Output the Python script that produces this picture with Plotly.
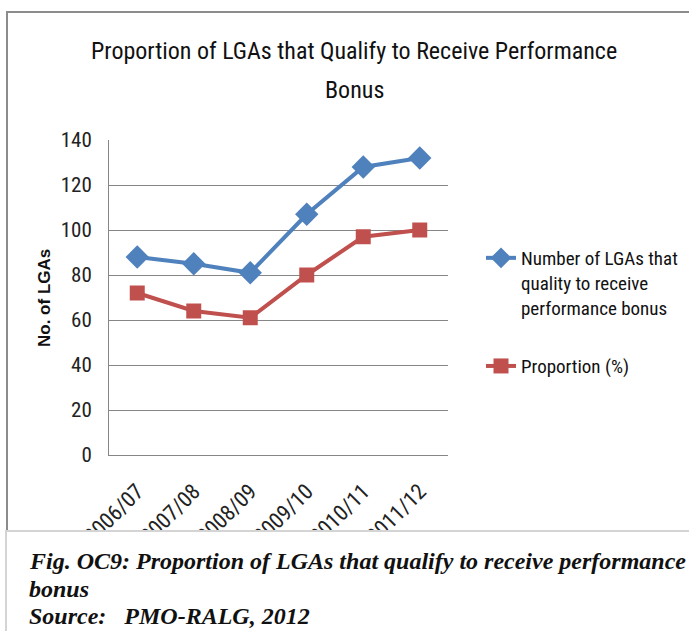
import plotly.graph_objects as go

# data
years = ["2006/07", "2007/08", "2008/09", "2009/10", "2010/11", "2011/12"]
lga_count = [88, 85, 81, 107, 128, 132]
proportion = [72, 64, 61, 80, 97, 100]
y_ticks = [0, 20, 40, 60, 80, 100, 120, 140]

W, H = 689, 631
L, R, T, B = 109, 448, 140, 455  # plot area in pixels


def px(x):
    return (x - L) / (R - L)


def py(y):
    return (B - y) / (B - T)


FONT = "Liberation Sans Narrow, Roboto Condensed, Arial Narrow, Roboto"
BLUE = "#4F81BD"
RED = "#C0504D"

fig = go.Figure()

fig.add_trace(go.Scatter(
    x=years, y=lga_count, mode="lines+markers",
    name="Number of LGAs that<br>quality to receive<br>performance bonus",
    legendgroup="a",
    line=dict(color=BLUE, width=4),
    marker=dict(symbol="diamond", size=18, color=BLUE),
))
fig.add_trace(go.Scatter(
    x=years, y=proportion, mode="lines+markers",
    name="Proportion (%)",
    legendgroup="b",
    line=dict(color=RED, width=4),
    marker=dict(symbol="square", size=15, color=RED),
))

fig.update_layout(
    width=W, height=H,
    margin=dict(l=L, r=W - R, t=T, b=H - B, pad=0, autoexpand=False),
    paper_bgcolor="white", plot_bgcolor="white",
    font=dict(family=FONT, size=19, color="#222"),
    showlegend=True,
    legend=dict(
        x=px(481), y=py(239), xanchor="left", yanchor="top",
        valign="top", tracegroupgap=31,
        font=dict(family=FONT, size=19, color="#111"),
        bgcolor="rgba(0,0,0,0)",
    ),
    xaxis=dict(
        type="category", showgrid=False, showline=True, linecolor="#868686",
        linewidth=1, ticks="outside", ticklen=14, tickcolor="rgba(0,0,0,0)",
        tickangle=-45, tickfont=dict(family=FONT, size=22, color="#222"),
        range=[-0.5, 5.5], automargin=False,
    ),
    yaxis=dict(
        range=[0, 140], tickvals=y_ticks, showgrid=True, gridcolor="#868686",
        gridwidth=1, showline=True, linecolor="#868686", linewidth=1,
        ticks="outside", ticklen=12, tickcolor="rgba(0,0,0,0)",
        tickfont=dict(family=FONT, size=21, color="#222"),
        zeroline=False, automargin=False,
    ),
)

# outer chart border
fig.add_shape(type="rect", xref="paper", yref="paper",
              x0=px(7), x1=px(700), y0=py(533), y1=py(12),
              line=dict(color="#8c8c8c", width=2), fillcolor="rgba(0,0,0,0)",
              layer="below")
# caption area hides the lower part of the tick labels
fig.add_shape(type="rect", xref="paper", yref="paper",
              x0=px(6), x1=px(700), y0=py(640), y1=py(531),
              line=dict(color="#d4d4d4", width=2), fillcolor="white", layer="above")

# title
fig.add_annotation(text="Proportion of LGAs that Qualify to Receive Performance",
                   xref="paper", yref="paper", x=px(354), y=py(51),
                   xanchor="center", yanchor="middle",
                   showarrow=False, font=dict(family=FONT, size=24, color="#111"))
fig.add_annotation(text="Bonus", xref="paper", yref="paper", x=px(354), y=py(90),
                   xanchor="center", yanchor="middle",
                   showarrow=False, font=dict(family=FONT, size=24, color="#111"))

# y axis title
fig.add_annotation(text="<b>No. of LGAs</b>", xref="paper", yref="paper",
                   x=px(44), y=py(298), textangle=-90, showarrow=False,
                   xanchor="center", yanchor="middle",
                   font=dict(family="Liberation Sans, Arial", size=17, color="#111"))

# caption
cap_font = dict(family="Liberation Serif, Times New Roman", size=24, color="#111")
fig.add_annotation(text="<b><i>Fig. OC9: Proportion of LGAs that qualify to receive performance</i></b>",
                   xref="paper", yref="paper", x=px(27), y=py(561),
                   xanchor="left", yanchor="middle", showarrow=False, font=cap_font)
fig.add_annotation(text="<b><i>bonus</i></b>", xref="paper", yref="paper",
                   x=px(27), y=py(589), xanchor="left", yanchor="middle",
                   showarrow=False, font=cap_font)
fig.add_annotation(text="<b><i>Source:   PMO-RALG, 2012</i></b>", xref="paper", yref="paper",
                   x=px(27), y=py(616), xanchor="left", yanchor="middle",
                   showarrow=False, font=cap_font)

fig.write_html("out.html", config={"displayModeBar": False},
               post_script="document.body.style.margin='0';")
